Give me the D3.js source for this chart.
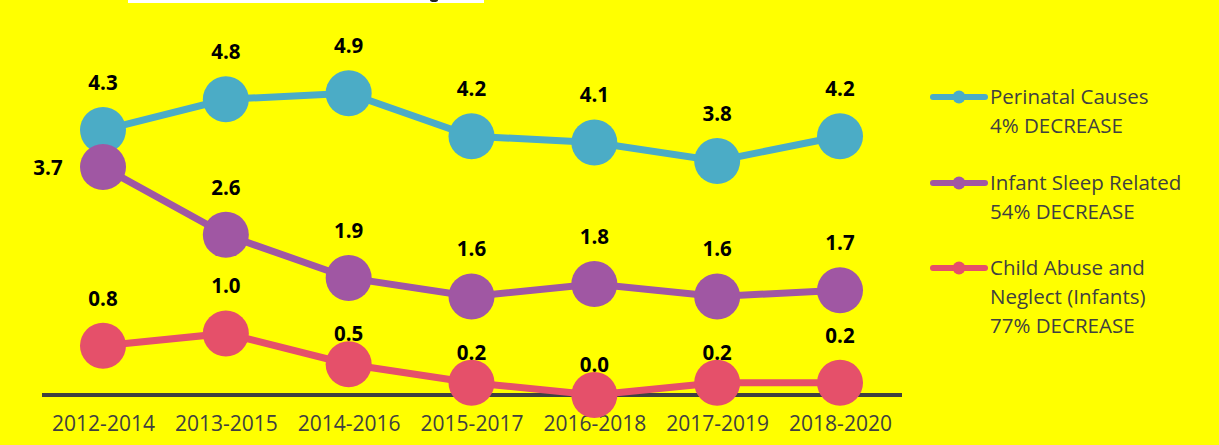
<!DOCTYPE html>
<html><head><meta charset="utf-8">
<script src="https://cdn.jsdelivr.net/npm/d3@7"></script>
<style>html,body{margin:0;padding:0;background:#FFFF00;}svg{display:block;}</style>
</head><body>
<svg id="c" width="1219" height="445"></svg>
<script>
const categories = ["2012-2014","2013-2015","2014-2016","2015-2017","2016-2018","2017-2019","2018-2020"];
const perinatal = [4.3,4.8,4.9,4.2,4.1,3.8,4.2];
const sleep = [3.7,2.6,1.9,1.6,1.8,1.6,1.7];
const abuse = [0.8,1.0,0.5,0.2,0.0,0.2,0.2];
const seriesNames = ["Perinatal Causes","Infant Sleep Related","Child Abuse and Neglect (Infants)"];
const legendLines = [["Perinatal Causes","4% DECREASE"],["Infant Sleep Related","54% DECREASE"],["Child Abuse and","Neglect (Infants)","77% DECREASE"]];
const colors = ["#4BACC6","#A057A3","#E5506A"];
// label placement per point: t = above, l = left, n = near above
const labelPlace = [
  ["t","t","t","t","t","t","t"],
  ["l","t","t","t","t","t","t"],
  ["t","t","n","n","n","n","t"]
];
const seriesData = [perinatal, sleep, abuse];

const svg = d3.select("#c");
svg.append("rect").attr("width",1219).attr("height",445).attr("fill","#FFFF00");
// cropped title box remnant
svg.append("rect").attr("x",128).attr("y",0).attr("width",356).attr("height",3).attr("fill","#FFFFFF");
svg.append("ellipse").attr("cx",434).attr("cy",0).attr("rx",4).attr("ry",2).attr("fill","#222");

const x = d3.scalePoint().domain(categories).range([103,840]);
const y = d3.scaleLinear().domain([0,5]).range([395,87]);

// axis
const axis = d3.axisBottom(x).tickSize(0).tickPadding(21);
const ag = svg.append("g").attr("transform","translate(0,395)").call(axis);
ag.select(".domain").remove();
ag.selectAll("text").attr("font-family","'Open Sans', sans-serif").attr("font-size",21).attr("fill","#404040");
svg.append("line").attr("x1",42).attr("x2",902).attr("y1",y(0)).attr("y2",y(0)).attr("stroke","#404040").attr("stroke-width",4);

const line = d3.line().x((d,i)=>x(categories[i])).y(d=>y(d));
seriesData.forEach((s,k)=>{
  const g = svg.append("g");
  g.append("path").datum(s).attr("d",line).attr("fill","none").attr("stroke",colors[k]).attr("stroke-width",7);
  g.selectAll("circle").data(s).join("circle")
    .attr("cx",(d,i)=>x(categories[i])).attr("cy",d=>y(d)).attr("r",23).attr("fill",colors[k]);
});
seriesData.forEach((s,k)=>{
  svg.append("g").selectAll("text").data(s).join("text")
    .attr("x",(d,i)=> labelPlace[k][i]==="l" ? x(categories[i]) - 55 : x(categories[i]))
    .attr("y",(d,i)=> {
      const p = labelPlace[k][i];
      if(p==="l") return y(d)+8;
      if(p==="n") return y(d)-23;
      return y(d)-40;
    })
    .attr("text-anchor","middle")
    .attr("font-family","'Open Sans', sans-serif").attr("font-weight","bold").attr("font-size",20.5)
    .attr("fill","#000").text(d=>d.toFixed(1));
});

// legend
const legTop = [97,183,268];
legendLines.forEach((lines,k)=>{
  const g = svg.append("g");
  g.append("line").attr("x1",933).attr("x2",985).attr("y1",legTop[k]).attr("y2",legTop[k])
    .attr("stroke",colors[k]).attr("stroke-width",6).attr("stroke-linecap","round");
  g.append("circle").attr("cx",959).attr("cy",legTop[k]).attr("r",6.5).attr("fill",colors[k]);
  lines.forEach((t,j)=>{
    g.append("text").attr("x",990).attr("y",legTop[k]+j*29).attr("dy","0.35em")
      .attr("font-family","'Open Sans', sans-serif").attr("font-size",20.5).attr("fill","#404040").text(t);
  });
});
</script>
</body></html>
